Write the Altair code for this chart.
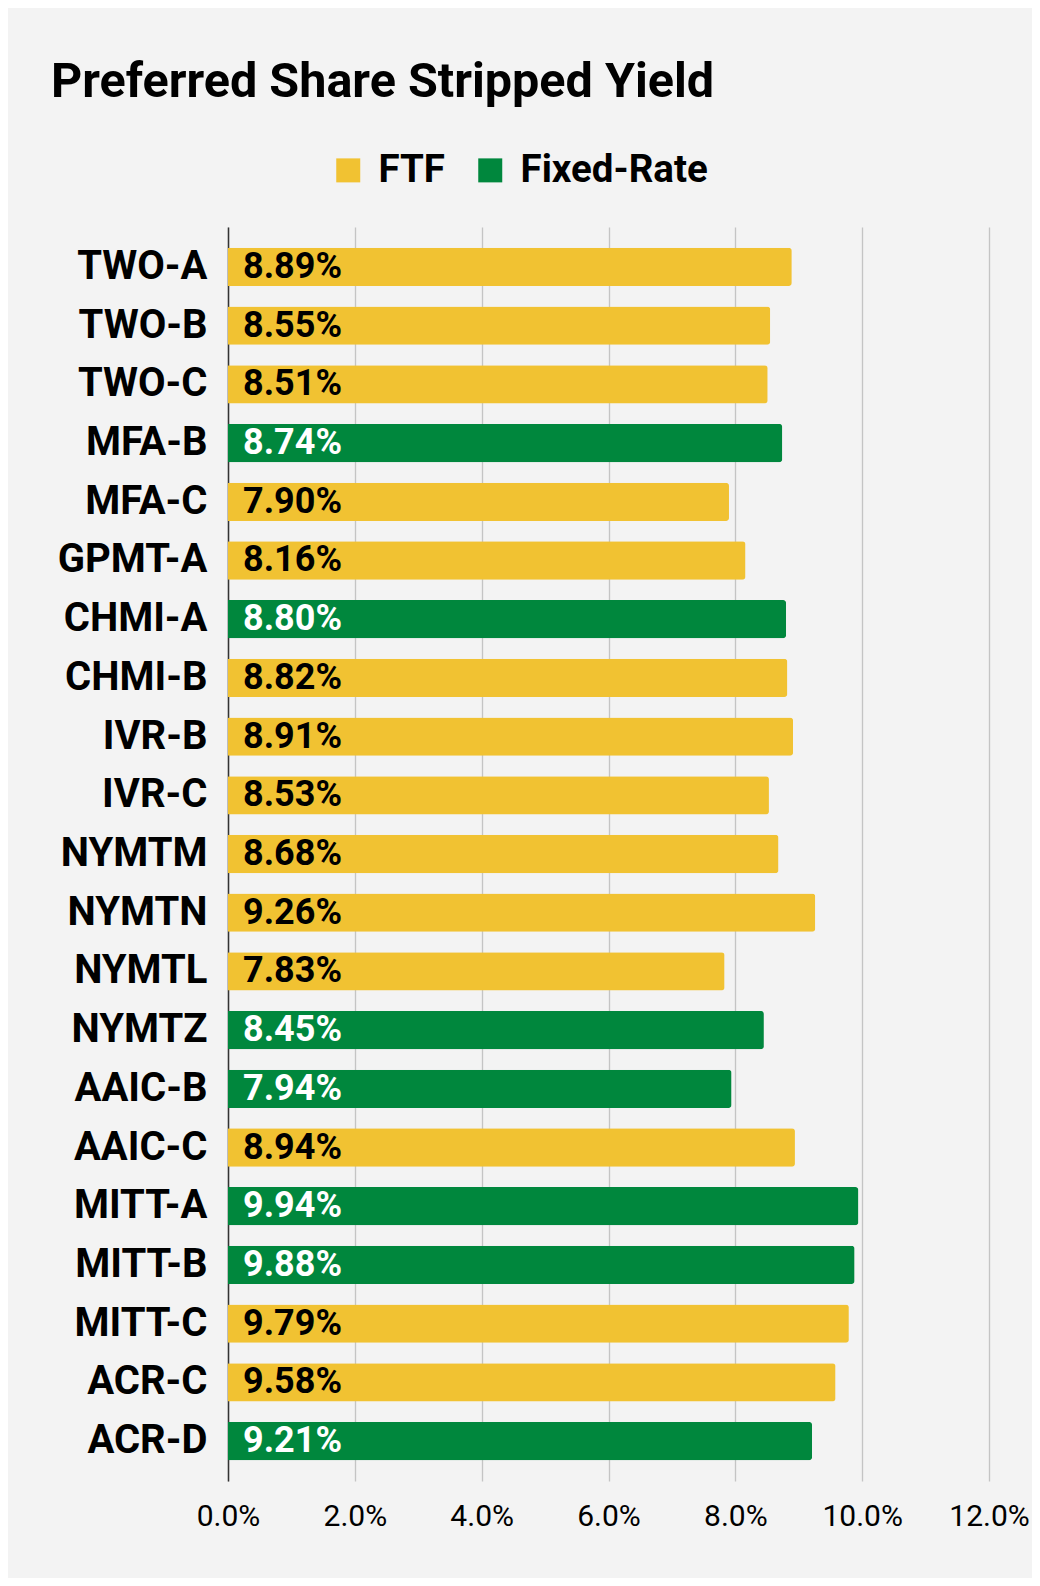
import altair as alt
import pandas as pd

tickers = ["TWO-A", "TWO-B", "TWO-C", "MFA-B", "MFA-C", "GPMT-A", "CHMI-A", "CHMI-B",
           "IVR-B", "IVR-C", "NYMTM", "NYMTN", "NYMTL", "NYMTZ", "AAIC-B", "AAIC-C",
           "MITT-A", "MITT-B", "MITT-C", "ACR-C", "ACR-D"]
yields_pct = [8.89, 8.55, 8.51, 8.74, 7.90, 8.16, 8.80, 8.82, 8.91, 8.53, 8.68,
              9.26, 7.83, 8.45, 7.94, 8.94, 9.94, 9.88, 9.79, 9.58, 9.21]
types = ["FTF", "FTF", "FTF", "Fixed-Rate", "FTF", "FTF", "Fixed-Rate", "FTF",
         "FTF", "FTF", "FTF", "FTF", "FTF", "Fixed-Rate", "Fixed-Rate", "FTF",
         "Fixed-Rate", "Fixed-Rate", "FTF", "FTF", "Fixed-Rate"]
type_order = ["FTF", "Fixed-Rate"]
type_colors = ["#f1c232", "#00873d"]
x_ticks = [0, 0.02, 0.04, 0.06, 0.08, 0.10, 0.12]

df = pd.DataFrame({
    "ticker": tickers,
    "yield": [v / 100 for v in yields_pct],
    "type": types,
})

FONT = "Roboto"

y_enc = alt.Y(
    "ticker:N",
    sort=tickers,
    scale=alt.Scale(paddingInner=0.348, paddingOuter=0.355),
    axis=alt.Axis(
        title=None, ticks=False, labelFont=FONT, labelFontSize=40,
        labelFontWeight="bold", labelColor="#000000", labelPadding=21,
        domainColor="#333333", domainWidth=1.5, grid=False, labelLimit=300,
    ),
)
x_enc = alt.X(
    "yield:Q",
    scale=alt.Scale(domain=[0, 0.12], nice=False),
    axis=alt.Axis(
        title=None, values=x_ticks, format=".1%", ticks=False, domain=False,
        labelFont=FONT, labelFontSize=30, labelColor="#000000", labelPadding=20,
        labelFlush=False, labelOverlap=False,
        grid=True, gridColor="#c4c4c4", gridWidth=1.3,
    ),
)

bars = alt.Chart(df).mark_bar(cornerRadiusEnd=3).encode(
    x=x_enc,
    y=y_enc,
    color=alt.Color(
        "type:N",
        scale=alt.Scale(domain=type_order, range=type_colors),
        legend=alt.Legend(
            title=None, orient="none", direction="horizontal",
            legendX=101, legendY=-76,
            symbolType="square", symbolSize=576, symbolStrokeWidth=0,
            symbolOpacity=1, labelLimit=400,
            labelFont=FONT, labelFontSize=38.5, labelFontWeight="bold",
            labelColor="#000000", labelOffset=11, columnPadding=26,
        ),
    ),
)

labels = alt.Chart(df).mark_text(
    align="left", baseline="middle", dx=15, font=FONT, fontSize=36,
    fontWeight="bold",
).encode(
    x=alt.value(0),
    y=alt.Y("ticker:N", sort=tickers),
    text=alt.Text("yield:Q", format=".2%"),
    color=alt.condition(alt.datum.type == "Fixed-Rate",
                        alt.value("#ffffff"), alt.value("#000000")),
)

chart = (bars + labels).properties(
    width=761,
    height=1254,
    title=alt.Title(
        "Preferred Share Stripped Yield", anchor="start", frame="group",
        font=FONT, fontSize=48.5, fontWeight="bold", color="#000000",
        dx=-177, offset=6, baseline="alphabetic",
    ),
    autosize=alt.AutoSizeParams(type="none"),
    padding={"left": 220, "top": 219, "right": 43, "bottom": 97},
    background="#f3f3f3",
).configure_view(stroke=None)

chart.save("out.html", embed_options={"renderer": "svg", "actions": False})
